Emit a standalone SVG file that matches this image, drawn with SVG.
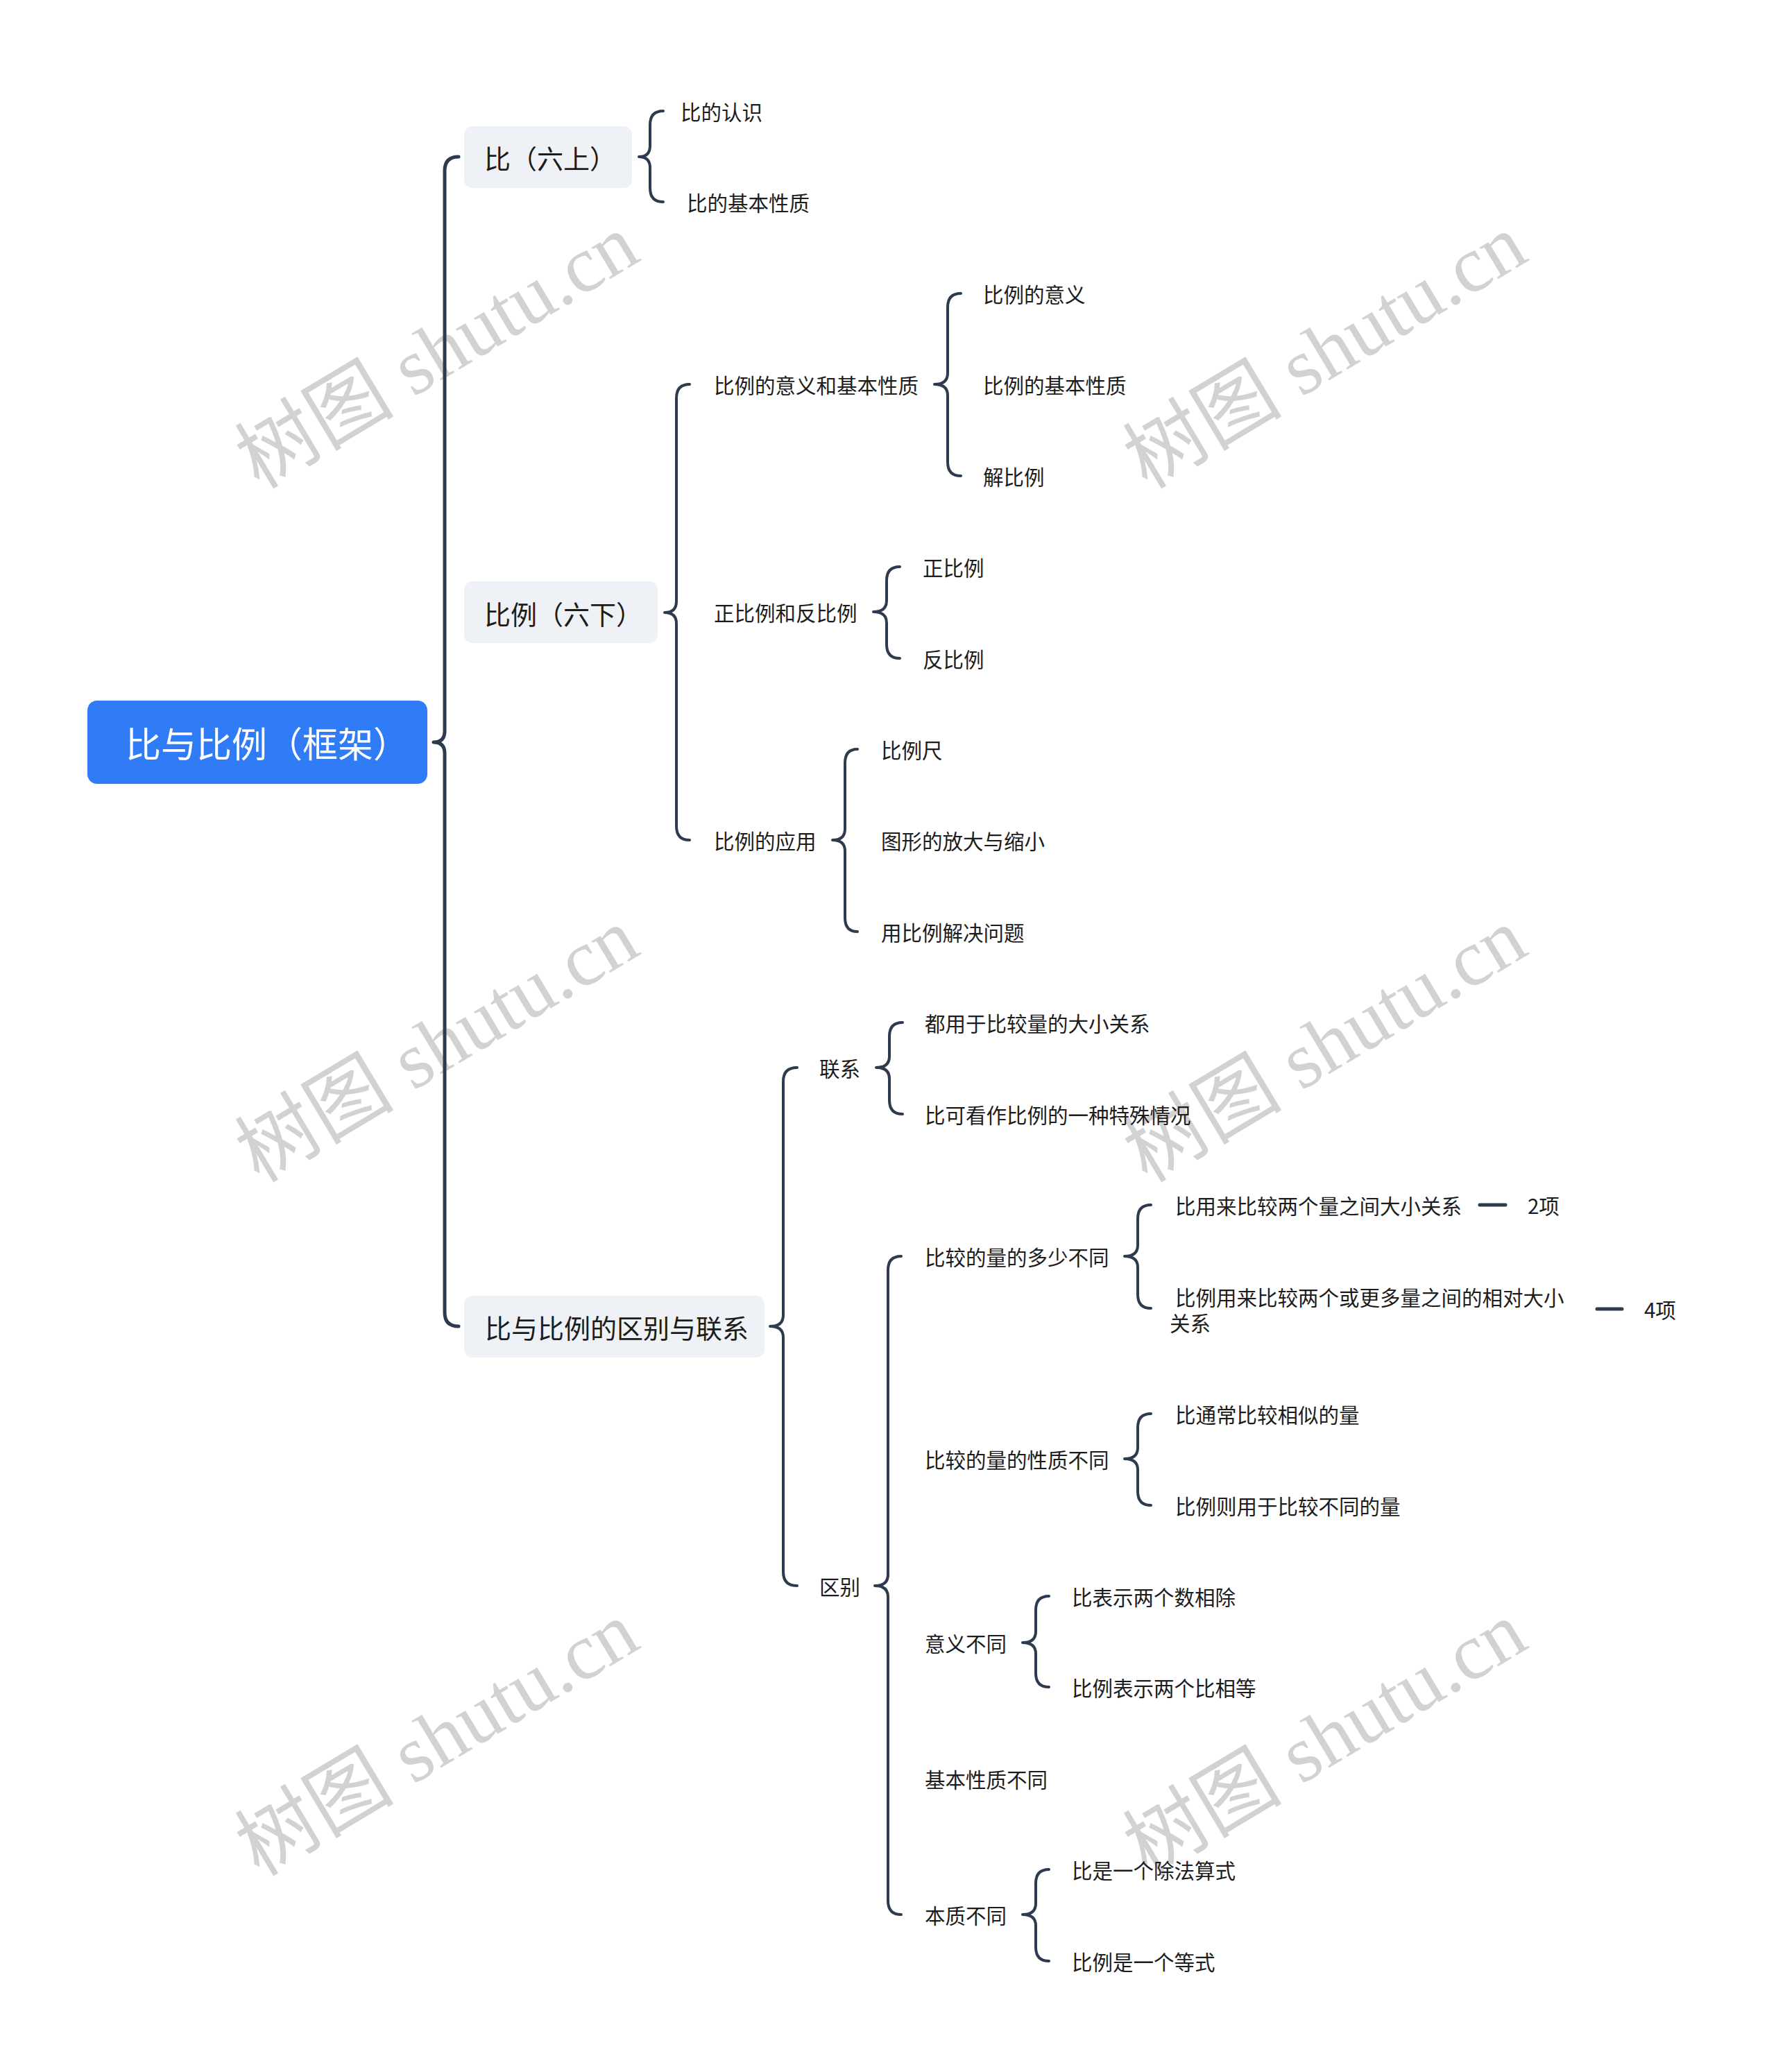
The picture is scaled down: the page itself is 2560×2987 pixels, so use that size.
<svg xmlns="http://www.w3.org/2000/svg" width="2560" height="2987" viewBox="0 0 2560 2987">
<style>
.wm{font-family:"Liberation Serif","Noto Sans CJK SC",serif;font-size:115px;fill:#d2d2d2;}
.t{font-family:"Noto Sans CJK SC","Noto Sans",sans-serif;font-size:29.5px;fill:#1c1c1c;dominant-baseline:central;}
.t1{font-family:"Noto Sans CJK SC","Noto Sans",sans-serif;font-size:38px;fill:#1c1c1c;dominant-baseline:central;}
.t0{font-family:"Noto Sans CJK SC","Noto Sans",sans-serif;font-size:51px;fill:#ffffff;dominant-baseline:central;}
.box{fill:#eef1f5;}
.br{fill:none;stroke:#2e3a4e;stroke-width:4;stroke-linecap:round;stroke-linejoin:round;}
.brm{fill:none;stroke:#2e3a4e;stroke-width:5;stroke-linecap:round;stroke-linejoin:round;}
</style>
<rect width="2560" height="2987" fill="#ffffff"/>
<g id="watermarks">
<text class="wm" text-anchor="middle" transform="translate(650,540) rotate(-31)">树图 shutu.cn</text>
<text class="wm" text-anchor="middle" transform="translate(1930,540) rotate(-31)">树图 shutu.cn</text>
<text class="wm" text-anchor="middle" transform="translate(650,1540) rotate(-31)">树图 shutu.cn</text>
<text class="wm" text-anchor="middle" transform="translate(1930,1540) rotate(-31)">树图 shutu.cn</text>
<text class="wm" text-anchor="middle" transform="translate(650,2540) rotate(-31)">树图 shutu.cn</text>
<text class="wm" text-anchor="middle" transform="translate(1930,2540) rotate(-31)">树图 shutu.cn</text>
</g>
<g id="connectors">
<path class="brm" d="M661 226 Q641 226 641 246 L641 1054 Q641 1070 625 1070 Q641 1070 641 1086 L641 1892 Q641 1912 661 1912"/>
<path class="br" d="M956 160 Q937 160 937 180 L937 210 Q937 226 921 226 Q937 226 937 242 L937 271 Q937 291 956 291"/>
<path class="br" d="M994 554 Q975 554 975 574 L975 867 Q975 883 958 883 Q975 883 975 899 L975 1191 Q975 1211 994 1211"/>
<path class="br" d="M1385 423 Q1366 423 1366 443 L1366 538 Q1366 554 1347 554 Q1366 554 1366 570 L1366 666 Q1366 686 1385 686"/>
<path class="br" d="M1297 817 Q1278 817 1278 837 L1278 866 Q1278 882 1259 882 Q1278 882 1278 898 L1278 929 Q1278 949 1297 949"/>
<path class="br" d="M1236 1080 Q1218 1080 1218 1100 L1218 1195 Q1218 1211 1200 1211 Q1218 1211 1218 1227 L1218 1323 Q1218 1343 1236 1343"/>
<path class="br" d="M1149 1539 Q1129 1539 1129 1559 L1129 1896 Q1129 1912 1110 1912 Q1129 1912 1129 1928 L1129 2266 Q1129 2286 1149 2286"/>
<path class="br" d="M1301 1474 Q1282 1474 1282 1494 L1282 1523 Q1282 1539 1263 1539 Q1282 1539 1282 1555 L1282 1586 Q1282 1606 1301 1606"/>
<path class="br" d="M1299 1811 Q1280 1811 1280 1831 L1280 2270 Q1280 2286 1261 2286 Q1280 2286 1280 2302 L1280 2740 Q1280 2760 1299 2760"/>
<path class="br" d="M1659 1737 Q1640 1737 1640 1757 L1640 1795 Q1640 1811 1621 1811 Q1640 1811 1640 1827 L1640 1866 Q1640 1886 1659 1886"/>
<path class="br" d="M1659 2038 Q1640 2038 1640 2058 L1640 2087 Q1640 2103 1621 2103 Q1640 2103 1640 2119 L1640 2150 Q1640 2170 1659 2170"/>
<path class="br" d="M1512 2301 Q1493 2301 1493 2321 L1493 2352 Q1493 2368 1474 2368 Q1493 2368 1493 2384 L1493 2412 Q1493 2432 1512 2432"/>
<path class="br" d="M1512 2695 Q1493 2695 1493 2715 L1493 2744 Q1493 2760 1474 2760 Q1493 2760 1493 2776 L1493 2807 Q1493 2827 1512 2827"/>
<path class="brm" d="M2133 1737 L2170 1737"/>
<path class="brm" d="M2302 1887 L2338 1887"/>
</g>
<g id="root">
<rect x="126" y="1010" width="490" height="120" rx="14" fill="#2f7cf6"/>
<text class="t0" x="181" y="1070">比与比例（框架）</text>
</g>
<g id="n-bi">
<rect class="box" x="669" y="182" width="242" height="89" rx="12"/>
<text class="t1" x="698" y="226">比（六上）</text>
</g>
<g id="n-bili">
<rect class="box" x="669" y="838" width="279" height="89" rx="12"/>
<text class="t1" x="698" y="883">比例（六下）</text>
</g>
<g id="n-qubie">
<rect class="box" x="669" y="1868" width="433" height="89" rx="12"/>
<text class="t1" x="699" y="1912">比与比例的区别与联系</text>
</g>
<g id="n1"><text class="t" x="981" y="160">比的认识</text></g>
<g id="n2"><text class="t" x="990" y="291">比的基本性质</text></g>
<g id="n3"><text class="t" x="1029" y="554">比例的意义和基本性质</text></g>
<g id="n4"><text class="t" x="1029" y="882">正比例和反比例</text></g>
<g id="n5"><text class="t" x="1029" y="1211">比例的应用</text></g>
<g id="n6"><text class="t" x="1417" y="423">比例的意义</text></g>
<g id="n7"><text class="t" x="1417" y="554">比例的基本性质</text></g>
<g id="n8"><text class="t" x="1417" y="686">解比例</text></g>
<g id="n9"><text class="t" x="1330" y="817">正比例</text></g>
<g id="n10"><text class="t" x="1330" y="949">反比例</text></g>
<g id="n11"><text class="t" x="1270" y="1080">比例尺</text></g>
<g id="n12"><text class="t" x="1270" y="1211">图形的放大与缩小</text></g>
<g id="n13"><text class="t" x="1270" y="1343">用比例解决问题</text></g>
<g id="n14"><text class="t" x="1181" y="1539">联系</text></g>
<g id="n15"><text class="t" x="1181" y="2286">区别</text></g>
<g id="n16"><text class="t" x="1333" y="1474">都用于比较量的大小关系</text></g>
<g id="n17"><text class="t" x="1333" y="1606">比可看作比例的一种特殊情况</text></g>
<g id="n18"><text class="t" x="1333" y="1811">比较的量的多少不同</text></g>
<g id="n19"><text class="t" x="1333" y="2103">比较的量的性质不同</text></g>
<g id="n20"><text class="t" x="1333" y="2368">意义不同</text></g>
<g id="n21"><text class="t" x="1333" y="2564">基本性质不同</text></g>
<g id="n22"><text class="t" x="1333" y="2760">本质不同</text></g>
<g id="n23"><text class="t" x="1694" y="1737">比用来比较两个量之间大小关系</text><text class="t" x="2202" y="1737">2项</text></g>
<g id="n24"><text class="t" x="1694" y="1869">比例用来比较两个或更多量之间的相对大小</text><text class="t" x="1686" y="1906">关系</text><text class="t" x="2370" y="1887">4项</text></g>
<g id="n25"><text class="t" x="1694" y="2038">比通常比较相似的量</text></g>
<g id="n26"><text class="t" x="1694" y="2170">比例则用于比较不同的量</text></g>
<g id="n27"><text class="t" x="1545" y="2301">比表示两个数相除</text></g>
<g id="n28"><text class="t" x="1545" y="2432">比例表示两个比相等</text></g>
<g id="n29"><text class="t" x="1545" y="2695">比是一个除法算式</text></g>
<g id="n30"><text class="t" x="1545" y="2827">比例是一个等式</text></g>
</svg>
